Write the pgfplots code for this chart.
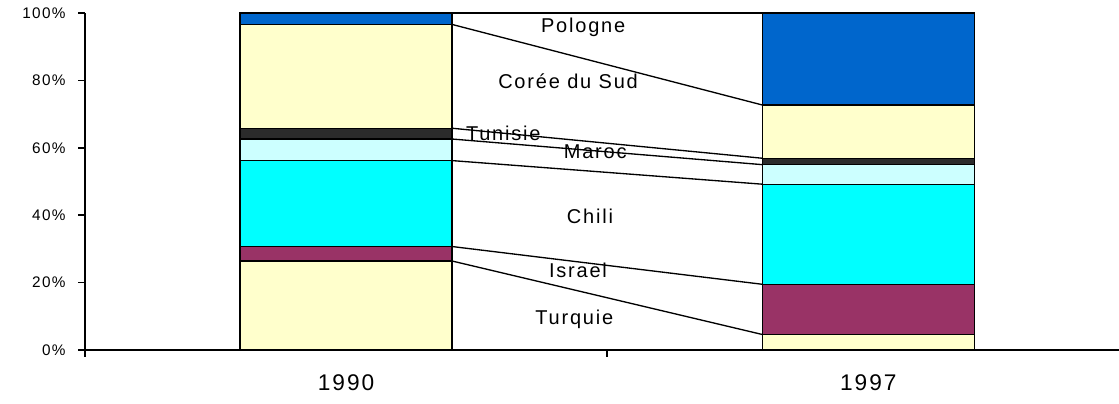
\documentclass[border=0pt]{standalone}
\usepackage{pgfplots}
\pgfplotsset{compat=1.18}
\usepackage{fontspec}
\setmainfont{Liberation Sans}[LetterSpace=9]

\definecolor{pologne}{HTML}{0066CC}
\definecolor{coree}{HTML}{FFFFCC}
\definecolor{tunisie}{HTML}{2B2B2B}
\definecolor{maroc}{HTML}{CCFFFF}
\definecolor{chili}{HTML}{00FFFF}
\definecolor{israel}{HTML}{993366}
\definecolor{turquie}{HTML}{FFFFCC}

\begin{document}
\begin{tikzpicture}
\useasboundingbox (-63.75pt,-39.75pt) rectangle (775.5pt,262.5pt);

% series lines (cumulative tops), behind the bars
\begin{axis}[
    at={(0,0)}, anchor=south west,
    scale only axis, width=775.5pt, height=252.75pt,
    xmin=-0.5, xmax=1.48, ymin=0, ymax=100,
    hide axis, clip=false,
]
\addplot[black, line width=1pt] coordinates {(0.203,26.4) (0.797,4.6)};
\addplot[black, line width=1pt] coordinates {(0.203,30.7) (0.797,19.5)};
\addplot[black, line width=1pt] coordinates {(0.203,56.2) (0.797,49.2)};
\addplot[black, line width=1pt] coordinates {(0.203,62.6) (0.797,55.0)};
\addplot[black, line width=1pt] coordinates {(0.203,65.8) (0.797,56.9)};
\addplot[black, line width=1pt] coordinates {(0.203,96.6) (0.797,72.7)};
\addplot[black, line width=1pt] coordinates {(0.203,100) (0.797,100)};
\node[font=\fontsize{15}{17}\selectfont] at (axis cs:0.454,95.8) {Pologne};
\node[font=\fontsize{15}{17}\selectfont] at (axis cs:0.425,79.8) {Corée du Sud};
\node[font=\fontsize{15}{17}\selectfont] at (axis cs:0.301,64.4) {Tunisie};
\node[font=\fontsize{15}{17}\selectfont] at (axis cs:0.477,58.8) {Maroc};
\node[font=\fontsize{15}{17}\selectfont] at (axis cs:0.467,39.8) {Chili};
\node[font=\fontsize{15}{17}\selectfont] at (axis cs:0.444,23.7) {Israel};
\node[font=\fontsize{15}{17}\selectfont] at (axis cs:0.437,9.2) {Turquie};
\end{axis}

\begin{axis}[
    at={(0,0)}, anchor=south west,
    scale only axis, width=775.5pt, height=252.75pt,
    xmin=-0.5, xmax=1.48, ymin=0, ymax=100,
    ybar stacked, bar width=0.406,
    axis lines=left, axis line style={-, line width=1.1pt},
    tick align=outside, tick style={black, line width=1.1pt},
    major tick length=5pt,
    xtick={-0.5,0.5}, xticklabels={},
    extra x ticks={0,1}, extra x tick labels={1990,1997},
    extra x tick style={major tick length=0pt,
        xticklabel style={font=\fontsize{17}{19}\selectfont, yshift=-15pt}},
    ytick={0,20,40,60,80,100},
    yticklabels={0\%,20\%,40\%,60\%,80\%,100\%},
    yticklabel style={font=\fontsize{11.5}{13}\selectfont, xshift=-6pt},
]
\addplot[draw=black, line width=1pt, fill=turquie] coordinates {(0,26.4) (1,4.6)};
\addplot[draw=black, line width=1pt, fill=israel]  coordinates {(0,4.3) (1,14.9)};
\addplot[draw=black, line width=1pt, fill=chili]   coordinates {(0,25.5) (1,29.7)};
\addplot[draw=black, line width=1pt, fill=maroc]   coordinates {(0,6.4) (1,5.8)};
\addplot[draw=black, line width=1pt, fill=tunisie] coordinates {(0,3.2) (1,1.9)};
\addplot[draw=black, line width=1pt, fill=coree]   coordinates {(0,30.8) (1,15.8)};
\addplot[draw=black, line width=1pt, fill=pologne] coordinates {(0,3.4) (1,27.3)};
\end{axis}
\end{tikzpicture}
\end{document}
